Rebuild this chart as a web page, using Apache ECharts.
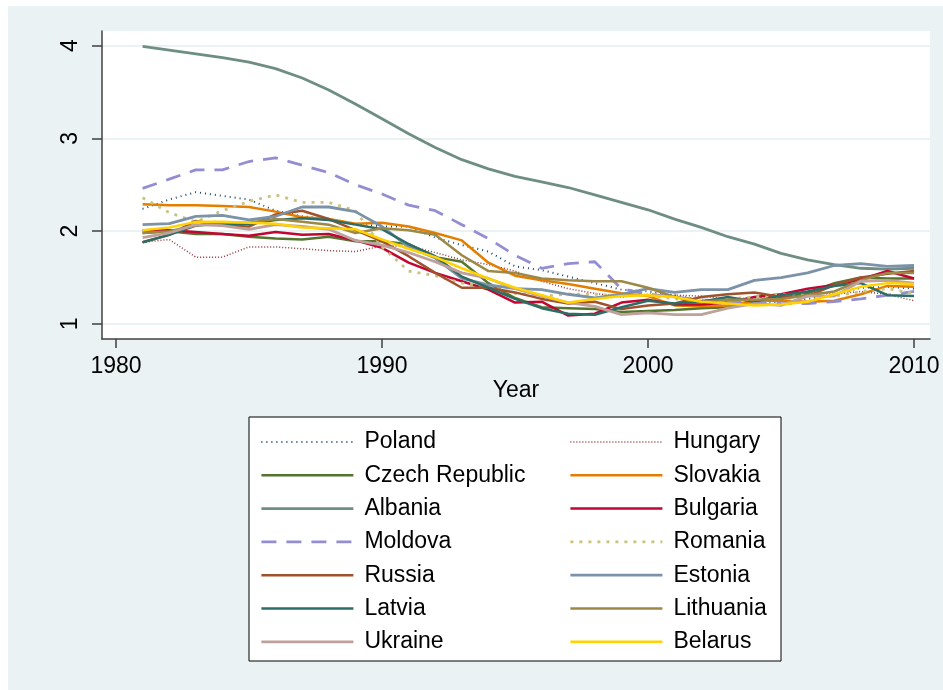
<!DOCTYPE html>
<html>
<head>
<meta charset="utf-8">
<script src="https://cdn.jsdelivr.net/npm/echarts@6/dist/echarts.min.js"></script>
<style>
html,body{margin:0;padding:0;background:#ffffff;}
#bg{position:absolute;left:8px;top:6px;width:935px;height:684px;background:#eaf2f3;}
#chart{position:absolute;left:0;top:0;width:943px;height:690px;}
</style>
</head>
<body>
<div id="bg"></div>
<div id="chart"></div>
<script>
const years = [1981,1982,1983,1984,1985,1986,1987,1988,1989,1990,1991,1992,1993,1994,1995,1996,1997,1998,1999,2000,2001,2002,2003,2004,2005,2006,2007,2008,2009,2010];
const xTicks = [1980, 1990, 2000, 2010];
const yTicks = [1, 2, 3, 4];

const poland   = [2.24,2.34,2.42,2.38,2.34,2.22,2.16,2.13,2.08,2.05,2.05,1.93,1.85,1.78,1.62,1.58,1.51,1.44,1.37,1.35,1.31,1.25,1.22,1.23,1.24,1.27,1.31,1.39,1.40,1.38];
const hungary  = [1.88,1.91,1.72,1.72,1.83,1.83,1.81,1.79,1.78,1.84,1.84,1.77,1.69,1.64,1.57,1.46,1.38,1.33,1.29,1.32,1.31,1.30,1.27,1.28,1.31,1.34,1.32,1.35,1.32,1.25];
const czech    = [1.98,2.00,1.97,1.97,1.94,1.92,1.91,1.94,1.89,1.89,1.86,1.72,1.67,1.44,1.28,1.18,1.17,1.16,1.13,1.14,1.15,1.17,1.18,1.23,1.28,1.33,1.44,1.50,1.49,1.49];
const slovakia = [2.29,2.28,2.28,2.27,2.26,2.21,2.15,2.13,2.08,2.09,2.05,1.98,1.90,1.66,1.52,1.47,1.43,1.38,1.33,1.30,1.20,1.19,1.20,1.25,1.25,1.24,1.25,1.32,1.41,1.40];
const albania  = [3.99,3.95,3.91,3.87,3.82,3.75,3.65,3.52,3.37,3.21,3.05,2.90,2.77,2.67,2.59,2.53,2.47,2.39,2.31,2.23,2.13,2.04,1.94,1.86,1.76,1.69,1.64,1.60,1.59,1.60];
const bulgaria = [2.01,2.01,1.99,1.97,1.95,1.99,1.96,1.97,1.90,1.82,1.66,1.55,1.46,1.37,1.23,1.24,1.09,1.11,1.23,1.26,1.21,1.21,1.23,1.29,1.32,1.38,1.42,1.48,1.57,1.49];
const moldova  = [2.46,2.56,2.66,2.66,2.75,2.79,2.71,2.63,2.50,2.40,2.28,2.22,2.07,1.92,1.74,1.60,1.65,1.67,1.38,1.32,1.29,1.26,1.24,1.23,1.22,1.22,1.24,1.27,1.31,1.35];
const romania  = [2.36,2.20,2.10,2.22,2.32,2.39,2.31,2.31,2.22,1.83,1.57,1.52,1.44,1.41,1.33,1.30,1.32,1.32,1.30,1.31,1.27,1.25,1.27,1.29,1.32,1.31,1.30,1.35,1.38,1.33];
const russia   = [1.88,1.96,2.11,2.06,2.05,2.18,2.22,2.13,2.01,1.89,1.73,1.55,1.39,1.39,1.34,1.27,1.22,1.24,1.16,1.20,1.22,1.29,1.32,1.34,1.29,1.30,1.42,1.50,1.54,1.57];
const estonia  = [2.07,2.08,2.16,2.17,2.12,2.16,2.26,2.26,2.21,2.05,1.83,1.71,1.49,1.42,1.38,1.37,1.32,1.28,1.32,1.38,1.34,1.37,1.37,1.47,1.50,1.55,1.63,1.65,1.62,1.63];
const latvia   = [1.88,1.96,2.06,2.08,2.08,2.12,2.14,2.12,2.07,2.02,1.86,1.73,1.51,1.39,1.27,1.17,1.11,1.10,1.18,1.25,1.22,1.24,1.29,1.24,1.31,1.35,1.41,1.44,1.31,1.30];
const lithuania= [1.98,2.00,2.06,2.09,2.09,2.13,2.10,2.07,1.98,2.03,2.01,1.96,1.74,1.57,1.55,1.49,1.47,1.46,1.46,1.39,1.29,1.24,1.26,1.26,1.27,1.31,1.35,1.47,1.55,1.55];
const ukraine  = [1.93,1.98,2.07,2.06,2.02,2.07,2.05,2.02,1.90,1.85,1.77,1.67,1.55,1.49,1.38,1.30,1.23,1.19,1.10,1.12,1.10,1.10,1.17,1.22,1.20,1.30,1.30,1.46,1.47,1.44];
const belarus  = [2.01,2.04,2.10,2.10,2.09,2.08,2.04,2.03,2.02,1.91,1.81,1.72,1.60,1.49,1.39,1.31,1.23,1.27,1.30,1.31,1.29,1.24,1.22,1.20,1.21,1.24,1.32,1.40,1.44,1.43];

const names = ['Poland','Hungary','Czech Republic','Slovakia','Albania','Bulgaria','Moldova','Romania','Russia','Estonia','Latvia','Lithuania','Ukraine','Belarus'];
const values = [poland,hungary,czech,slovakia,albania,bulgaria,moldova,romania,russia,estonia,latvia,lithuania,ukraine,belarus];
const colors = ['#1a476f','#90353b','#55752f','#e37e00','#6e8e84','#c10534','#938dd2','#cac27e','#a0522d','#7b92a8','#2d6d66','#9c8847','#bfa19c','#ffd200'];
const styles = [
  {width:2, type:[1,4]},
  {width:1.5, type:[1,2]},
  {width:2.5, type:'solid'},
  {width:2.5, type:'solid'},
  {width:2.8, type:'solid'},
  {width:2.5, type:'solid'},
  {width:2.8, type:[15,10]},
  {width:2.8, type:[3,6]},
  {width:2.5, type:'solid'},
  {width:2.8, type:'solid'},
  {width:2.5, type:'solid'},
  {width:2.5, type:'solid'},
  {width:2.8, type:'solid'},
  {width:2.5, type:'solid'}
];
const leftCol = ['Poland','Czech Republic','Albania','Moldova','Russia','Latvia','Ukraine'];
const rightCol = ['Hungary','Slovakia','Bulgaria','Romania','Estonia','Lithuania','Belarus'];

const FONT = '"Liberation Sans", Arial, sans-serif';

const series = names.map((n, i) => ({
  name: n,
  type: 'line',
  symbol: 'none',
  showSymbol: false,
  color: colors[i],
  lineStyle: {color: colors[i], width: styles[i].width, type: styles[i].type},
  data: years.map((y, j) => [y, values[i][j]]),
  z: 3 + i * 0.01
}));

const legendCommon = {
  orient: 'vertical',
  itemWidth: 92,
  itemHeight: 14,
  itemGap: 9.3,
  itemStyle: {opacity: 0},
  lineStyle: {width: 'inherit'},
  textStyle: {fontFamily: FONT, fontSize: 23, color: '#000', lineHeight: 24, padding: [0,0,0,6]},
  z: 10
};

const chart = echarts.init(document.getElementById('chart'), null, {renderer: 'canvas'});
chart.setOption({
  animation: false,
  backgroundColor: 'transparent',
  grid: {left: 102, top: 31, width: 828, height: 308, show: true, backgroundColor: '#ffffff', borderWidth: 0, containLabel: false},
  xAxis: {
    type: 'value',
    min: 1979.474, max: 2010.6,
    name: 'Year', nameLocation: 'middle', nameGap: 40,
    nameTextStyle: {fontFamily: FONT, fontSize: 23, color: '#000'},
    axisLine: {show: true, lineStyle: {color: '#404040', width: 1.5}},
    axisTick: {show: true, length: 9, inside: false, customValues: xTicks, lineStyle: {color: '#404040', width: 1.5}},
    axisLabel: {customValues: xTicks, formatter: v => String(Math.round(v)), fontFamily: FONT, fontSize: 23, color: '#000', margin: 16},
    splitLine: {show: false}
  },
  yAxis: {
    type: 'value',
    min: 0.838, max: 4.156,
    axisLine: {show: true, lineStyle: {color: '#404040', width: 1.5}},
    axisTick: {show: true, length: 10, inside: false, customValues: yTicks, lineStyle: {color: '#404040', width: 1.5}},
    axisLabel: {customValues: yTicks, formatter: v => String(Math.round(v)), rotate: 90, fontFamily: FONT, fontSize: 23, color: '#000', margin: 20},
    splitLine: {show: true, lineStyle: {color: '#eaf2f3', width: 2}}
  },
  legend: [
    Object.assign({}, legendCommon, {left: 255, top: 425, data: leftCol}),
    Object.assign({}, legendCommon, {left: 564, top: 425, data: rightCol})
  ],
  graphic: [{
    type: 'rect', z: 1,
    shape: {x: 249, y: 417, width: 532, height: 244},
    style: {fill: '#ffffff', stroke: '#000000', lineWidth: 1}
  }],
  series: series
});
</script>
</body>
</html>
